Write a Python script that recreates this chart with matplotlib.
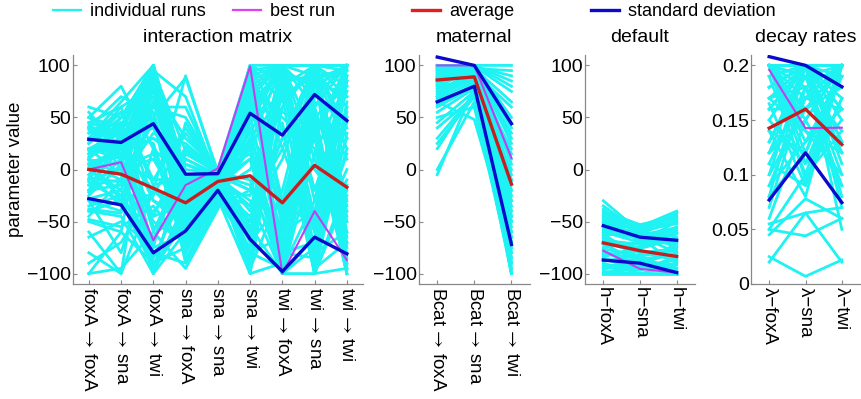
import matplotlib
matplotlib.use("Agg")
import matplotlib.pyplot as plt
from matplotlib.lines import Line2D

plt.rcParams['font.family'] = ['Liberation Sans', 'DejaVu Sans']
plt.rcParams['mathtext.fontset'] = 'stixsans'

# ---------------- data ----------------
ARW = r"$\,\rightarrow\,$"
labels_int = ["foxA" + ARW + "foxA", "foxA" + ARW + "sna", "foxA" + ARW + "twi",
              "sna" + ARW + "foxA", "sna" + ARW + "sna", "sna" + ARW + "twi",
              "twi" + ARW + "foxA", "twi" + ARW + "sna", "twi" + ARW + "twi"]
labels_mat = ["Bcat" + ARW + "foxA", "Bcat" + ARW + "sna", "Bcat" + ARW + "twi"]
labels_def = ["h−foxA", "h−sna", "h−twi"]
labels_dec = ["λ−foxA", "λ−sna", "λ−twi"]

runs_int = [
    [55, 20, 98, -20, -5, 60, 95, 80, 98], [50, 80, 20, -10, -8, 90, 40, -90, 20],
    [-100, -60, 100, -30, -15, 30, -60, 100, 95], [10, -30, -95, -50, -25, 70, 100, 60, -40],
    [-80, -100, -20, 90, -5, -80, -95, -30, 100], [30, 40, 95, 70, -10, -60, 80, 100, -90],
    [20, 10, -50, -70, -30, 40, -100, 95, 60], [-20, 30, 60, 50, -2, -40, 90, -95, -70],
    [40, 25, -80, -90, -20, 95, 20, -60, 90], [5, -10, 45, -35, -12, 20, -100, 70, 100],
    [-40, -45, -100, -60, -35, -20, 100, -100, -20], [60, 50, 100, -5, -3, 80, -50, 30, -100],
    [-10, 35, -30, -45, -18, -90, 60, 100, 40], [25, 60, 80, 30, 0, 100, 85, -80, -60],
    [-30, -80, 20, -80, -28, -100, -90, 50, 80], [15, 45, -60, 10, -6, 50, 100, 100, 100],
    [-60, -100, 90, -20, -10, 10, -80, -70, 0], [45, 0, -95, -40, -22, 85, 50, 20, -95],
    [-15, 20, 70, -25, -14, -70, -30, 85, 70], [35, 55, -10, 40, -4, 60, 95, -50, 30],
    [0, -20, 100, -55, -25, 95, -100, 40, -50], [-50, -60, -90, -75, -32, 30, 70, 90, 95],
    [20, 15, 30, 5, -8, -30, -100, -100, 60], [10, 40, -100, -30, -16, 100, 100, 10, -80],
    [-25, 5, 90, -65, -26, -50, 30, 100, -30], [50, 30, 50, 88, -2, 70, -70, 60, 100],
    [-5, -35, -40, -10, -10, -85, 90, -20, 50], [30, 65, 100, -45, -20, 40, -40, 95, -100],
    [-35, -25, -70, 20, -5, -100, 100, -90, 85], [25, 50, 85, -85, -34, 90, -95, 75, 10],
    [-90, -70, -20, -50, -20, 0, 60, 100, -75], [40, 10, 60, 60, -6, -20, -60, -40, 100],
    [-5, 25, -85, -20, -12, 75, 100, 100, 30], [15, 30, 40, -35, -15, -65, 45, -100, -95],
    [-20, -15, 100, 0, -4, 100, -100, 80, 75], [45, 60, -30, -55, -24, 20, 80, -60, -10],
    [-45, -10, 50, -90, -36, 55, 100, 30, 95], [10, -5, -100, 15, -3, -95, -20, 100, -60],
    [0, 20, 75, -28, -13, 35, 95, -80, 100], [35, 45, -55, -60, -28, 100, -85, 65, 50],
    [-10, 0, 10, -42, -18, -45, 10, 100, -85], [20, 35, 100, -15, -9, 80, 100, -30, 90],
    [-65, -50, -75, 45, -3, -10, -100, 100, 100], [5, 15, 90, -70, -30, -75, 75, 0, -40],
    [25, 55, -15, -8, -7, 65, -45, 95, 20], [-30, -40, 65, -38, -16, 95, 100, -95, 65],
    [50, 40, -90, -50, -22, -35, 30, 45, -100], [-15, -10, 35, 25, -1, 15, -75, 100, 80],
    [15, 25, 100, -25, -11, -100, 90, 85, 100], [-100, -95, -60, -95, -38, 45, 100, -100, -15],
    [40, 70, 55, -60, -26, 100, 65, 100, -70], [0, -25, -25, 35, -4, -55, -100, -65, 45],
    [30, 20, 95, -5, -6, 25, 100, 70, 100], [-20, 10, -45, -33, -15, 90, -55, 100, -50],
    [10, 50, 100, -48, -21, -25, 85, -45, 85], [-40, -30, 80, -22, -12, 60, 100, 90, -95],
    [20, -5, -70, 10, -5, -15, -90, 35, 100], [45, 35, 25, -68, -29, 100, 40, -100, 55],
    [5, 20, -20, -40, -19, 50, -80, -85, 90], [-8, -12, 85, -12, -8, -35, 20, 100, -35],
    [28, 38, -75, -62, -27, 85, 100, -20, 75], [-22, 2, 15, -52, -23, -80, -65, 55, -90],
    [12, 28, 95, 18, -4, 45, 70, -100, 35], [-48, -55, -35, -72, -31, 100, -40, 80, 100],
    [38, 15, 65, -18, -9, -60, 100, 100, -65], [-12, -30, -65, -30, -17, 10, -100, -75, 15],
    [18, 42, 100, -75, -33, 75, 55, 40, -100], [-28, -20, -95, 5, -5, -20, 100, 100, 70],
    [8, 12, 55, -46, -21, 100, -30, -55, 100], [42, 30, -45, 22, -3, -50, 85, 90, -45],
    [-38, -42, 95, -58, -27, 25, -100, 15, 85], [2, 8, -10, -8, -6, 90, 100, -100, -25],
]
runs_mat = [
    [95, 100, 40], [100, 98, -60], [85, 90, -100], [90, 100, 100], [70, 95, -30], [80, 85, -80],
    [98, 100, 10], [60, 80, -90], [100, 100, 85], [92, 96, -45], [75, 90, -70], [88, 100, 30],
    [-5, 80, -20], [50, 60, -95], [97, 99, -10], [82, 93, 60], [65, 48, -75], [100, 100, -100],
    [90, 85, 20], [78, 100, -55], [95, 97, 95], [85, 90, -85], [40, 70, -40], [99, 100, 50],
    [70, 88, -65], [93, 100, -25], [20, 75, 0], [100, 95, -90], [87, 99, 75], [62, 82, -50],
    [96, 100, -5], [80, 100, -100], [91, 94, 35], [72, 86, -35], [100, 100, -80], [0, 65, -60],
    [89, 98, 15], [84, 100, -95], [55, 78, -15], [98, 99, 90], [77, 92, -70], [94, 100, -40],
    [30, 72, -85], [100, 97, 65], [86, 91, -20], [68, 84, -100], [97, 100, 25], [81, 96, -50],
    [45, 75, -30], [99, 100, -75], [74, 89, 45], [92, 99, -90], [88, 100, 5], [66, 80, -65],
    [100, 100, 80], [83, 95, -45], [25, 70, -100], [96, 98, -10],
]
runs_def = [
    [-30, -60, -75], [-45, -55, -40], [-100, -100, -100], [-60, -70, -50], [-80, -90, -95],
    [-40, -53, -45], [-95, -85, -100], [-55, -65, -70], [-70, -75, -60], [-85, -95, -90],
    [-50, -58, -42], [-65, -80, -85], [-75, -70, -55], [-90, -100, -100], [-35, -60, -65],
    [-100, -90, -80], [-58, -62, -48], [-48, -68, -72], [-82, -78, -88], [-62, -85, -95],
    [-92, -95, -70], [-42, -56, -50], [-72, -88, -100], [-52, -66, -58], [-88, -82, -78],
    [-68, -72, -62], [-38, -64, -80], [-98, -100, -92], [-78, -92, -98], [-56, -54, -44],
    [-66, -76, -66], [-46, -59, -52], [-86, -96, -84], [-76, -84, -74], [-96, -88, -96],
    [-60, -66, -90], [-44, -70, -60], [-84, -74, -68], [-54, -61, -41], [-94, -97, -86],
    [-70, -80, -76], [-100, -94, -100], [-50, -63, -56], [-80, -86, -82], [-64, -57, -46],
]
runs_dec = [
    [0.2, 0.2, 0.2], [0.2, 0.19, 0.2], [0.19, 0.2, 0.17], [0.18, 0.2, 0.2], [0.2, 0.15, 0.2],
    [0.17, 0.18, 0.14], [0.15, 0.2, 0.19], [0.2, 0.13, 0.16], [0.12, 0.17, 0.2], [0.16, 0.2, 0.11],
    [0.2, 0.2, 0.15], [0.1, 0.16, 0.18], [0.14, 0.12, 0.2], [0.2, 0.18, 0.09], [0.08, 0.2, 0.13],
    [0.19, 0.1, 0.2], [0.13, 0.19, 0.1], [0.2, 0.14, 0.12], [0.06, 0.15, 0.2], [0.17, 0.2, 0.08],
    [0.11, 0.09, 0.17], [0.2, 0.17, 0.2], [0.09, 0.13, 0.19], [0.18, 0.2, 0.07], [0.15, 0.11, 0.15],
    [0.2, 0.2, 0.18], [0.05, 0.1, 0.14], [0.16, 0.16, 0.2], [0.2, 0.12, 0.2], [0.12, 0.2, 0.16],
    [0.19, 0.2, 0.05], [0.07, 0.18, 0.12], [0.14, 0.08, 0.2], [0.2, 0.19, 0.19], [0.1, 0.2, 0.2],
    [0.17, 0.14, 0.1], [0.2, 0.2, 0.13], [0.045, 0.078, 0.06], [0.055, 0.065, 0.07],
    [0.05, 0.044, 0.06], [0.025, 0.007, 0.022], [0.02, 0.065, 0.02], [0.165, 0.09, 0.2],
    [0.2, 0.095, 0.17], [0.08, 0.12, 0.2], [0.18, 0.2, 0.2], [0.12, 0.15, 0.09],
    [0.2, 0.16, 0.2], [0.16, 0.2, 0.18], [0.2, 0.2, 0.16], [0.11, 0.18, 0.2], [0.2, 0.11, 0.19],
    [0.13, 0.2, 0.12], [0.09, 0.17, 0.16], [0.2, 0.2, 0.2],
]

best_int = [0, 7, -68, -15, 1, 99, -100, -40, -87]
avg_int = [0, -4.5, -18, -32, -11.5, -6, -32, 4, -17]
sd_hi_int = [29, 26, 44, -4.5, -4, 54, 33, 72, 47]
sd_lo_int = [-28, -34, -80, -59, -20, -67, -98, -65, -81]

best_mat = [100, 100, 11]
avg_mat = [86, 89, -14]
sd_hi_mat = [108, 100, 44]
sd_lo_mat = [65, 80, -72]

best_def = [-78, -95.5, -99]
avg_def = [-70.5, -78, -83.5]
sd_hi_def = [-54, -65, -68]
sd_lo_def = [-87, -90, -99]

best_dec = [0.196, 0.1426, 0.143]
avg_dec = [0.1426, 0.160, 0.1276]
sd_hi_dec = [0.208, 0.200, 0.1805]
sd_lo_dec = [0.0769, 0.120, 0.0745]

C_CYAN = '#1ef2f2'
C_BEST = '#c040f0'
C_AVG = '#c81e1e'
C_SD = '#0a0acd'

fig = plt.figure(figsize=(8.61, 3.99), dpi=100)
W, H = 861, 399
bottom_px, top_px = 284, 55

neg_ticks = ["−100", "−50", "0", "50", "100"]
panels = [
    (72.7, 363, "interaction matrix", labels_int, runs_int, best_int, avg_int, sd_hi_int, sd_lo_int,
     (-110, 110), [-100, -50, 0, 50, 100], neg_ticks),
    (418.7, 530, "maternal", labels_mat, runs_mat, best_mat, avg_mat, sd_hi_mat, sd_lo_mat,
     (-110, 110), [-100, -50, 0, 50, 100], neg_ticks),
    (585, 695, "default", labels_def, runs_def, best_def, avg_def, sd_hi_def, sd_lo_def,
     (-110, 110), [-100, -50, 0, 50, 100], neg_ticks),
    (751, 860, "decay rates", labels_dec, runs_dec, best_dec, avg_dec, sd_hi_dec, sd_lo_dec,
     (0, 0.2095), [0, 0.05, 0.1, 0.15, 0.2], ["0", "0.05", "0.1", "0.15", "0.2"]),
]

axes = []
for (l, r, title, labs, runs, best, avg, hi, lo, ylim, yt, ytl) in panels:
    ax = fig.add_axes([l / W, 1 - bottom_px / H, (r - l) / W, (bottom_px - top_px) / H])
    axes.append(ax)
    x = list(range(1, len(labs) + 1))
    for run in runs:
        ax.plot(x, run, color=C_CYAN, lw=2.0, zorder=1)
    ax.plot(x, best, color=C_BEST, lw=1.5, zorder=3)
    ax.plot(x, avg, color=C_AVG, lw=2.4, zorder=4)
    ax.plot(x, hi, color=C_SD, lw=2.4, zorder=5)
    ax.plot(x, lo, color=C_SD, lw=2.4, zorder=5)
    ax.set_xlim(0.5, len(labs) + 0.5)
    ax.set_ylim(*ylim)
    ax.set_xticks(x)
    ax.set_xticklabels(labs, rotation=270, fontsize=13.5, va='top', ha='center')
    ax.set_yticks(yt)
    ax.set_yticklabels(ytl, fontsize=14)
    for s in ['top', 'right']:
        ax.spines[s].set_visible(False)
    for s in ['left', 'bottom']:
        ax.spines[s].set_color('#888888')
        ax.spines[s].set_linewidth(0.9)
    ax.tick_params(direction='in', length=3, color='#888888')
    ax.tick_params(axis='y', pad=1.5)
    ax.tick_params(axis='x', pad=2)
    ax.set_title(title, fontsize=14, pad=9)

axes[0].set_ylabel("parameter value", fontsize=13.5, labelpad=2)

legend_items = [("individual runs", C_CYAN, 1.6, 55), ("best run", '#dd44ee', 1.6, 235),
                ("average", '#e02020', 2.4, 414), ("standard deviation", C_SD, 2.4, 593)]
for name, col, lw, xpx in legend_items:
    h = Line2D([], [], color=col, lw=lw)
    fig.legend([h], [name], loc='center left', bbox_to_anchor=(xpx / W - 0.006, 1 - 12 / H),
               frameon=False, fontsize=13, handlelength=1.5, handletextpad=0.55,
               borderpad=0.2, borderaxespad=0)

fig.savefig("out.png", dpi=100)
